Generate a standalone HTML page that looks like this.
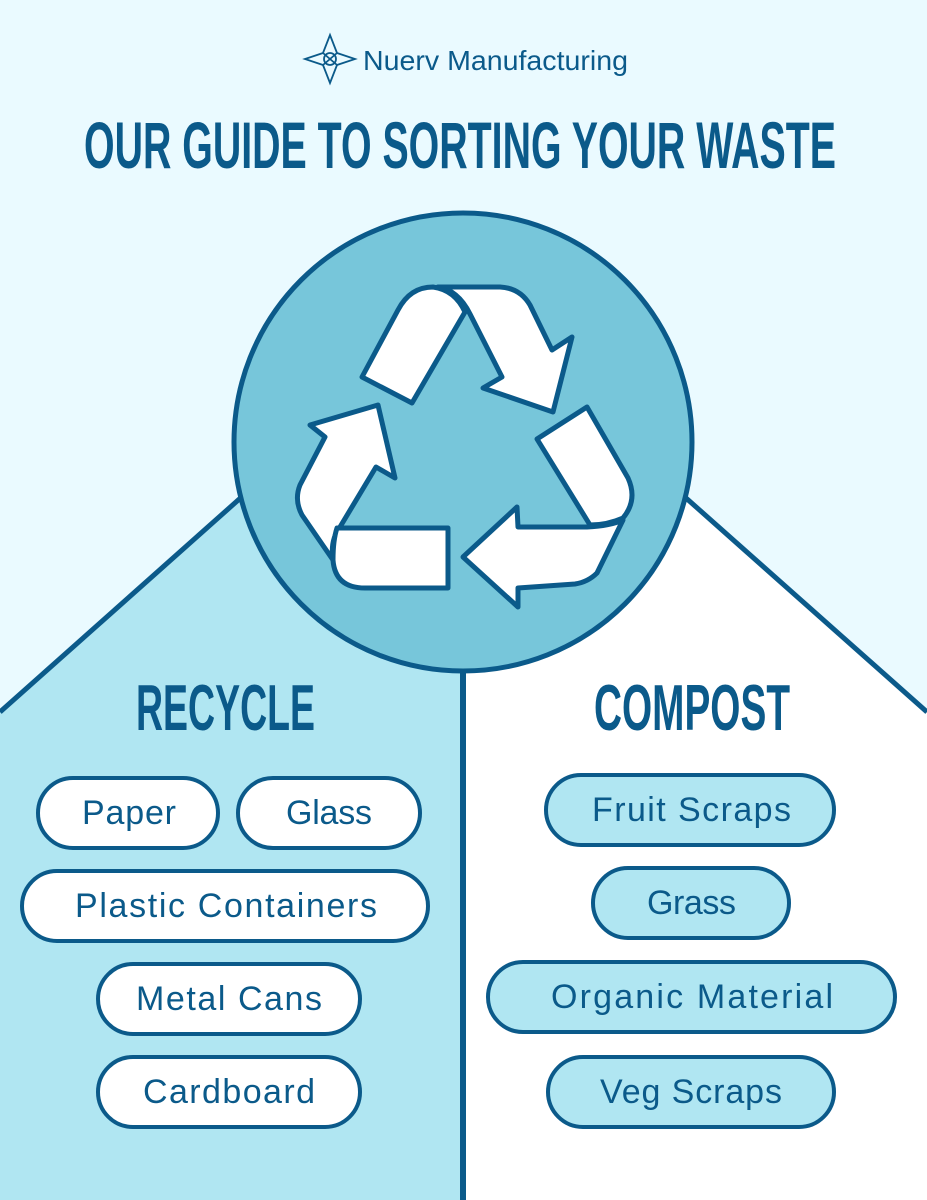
<!DOCTYPE html>
<html><head><meta charset="utf-8"><style>
html,body{margin:0;padding:0;background:#eafaff}
svg{display:block}
</style></head><body>
<svg width="927" height="1200" viewBox="0 0 927 1200" xmlns="http://www.w3.org/2000/svg">
<rect width="927" height="1200" fill="#eafaff"/>
<polygon points="0,712 463,300 463,1200 0,1200" fill="#b0e6f2"/>
<polygon points="927,712 463,300 463,1200 927,1200" fill="#ffffff"/>
<line x1="0" y1="712" x2="463" y2="300" stroke="#0b5a8a" stroke-width="5"/>
<line x1="927" y1="712" x2="463" y2="300" stroke="#0b5a8a" stroke-width="5"/>
<line x1="463" y1="660" x2="463" y2="1200" stroke="#0b5a8a" stroke-width="6"/>
<circle cx="463" cy="442" r="229" fill="#77c6da" stroke="#0b5a8a" stroke-width="5"/>
<g fill="#fff" stroke="#0b5a8a" stroke-width="5" stroke-linejoin="round">
<path d="M438,287 L500,287 Q520,288 530,305 L552,350 L572,337 L553,412 L483,388 L502,377 L470,314 Q458,290 438,287 Z"/>
<path d="M362,377 L412,403 L465,312 Q455,290 433,287 Q410,287 398,310 Z"/>
<path d="M537,439 L587,407 L628,478 Q638,500 623,518 Q607,525 590,525 Z"/>
<path d="M463,557 L517,507 L518,527 L587,527 Q610,526 623,520 L597,573 Q588,582 575,584 L518,588 L518,607 Z"/>
<path d="M333,560 Q330,540 340,527 L376,467 L395,478 L378,405 L310,425 L325,437 L300,485 Q294,500 302,515 L333,560 Z"/>
<path d="M337,528 L448,528 L448,588 L365,588 Q335,588 333,560 Q333,540 337,528 Z"/>
</g>
<g fill="none" stroke="#0b5a8a" stroke-width="1.8">
<path d="M330,35 L337,53 L355,59 L337,65 L330,83 L323,65 L305,59 L323,53 Z"/>
<circle cx="330" cy="59" r="6"/>
<path d="M323,53 L330,59 L337,53 M323,65 L330,59 L337,65"/>
</g>
<text x="363" y="70" font-family="Liberation Sans, sans-serif" font-size="28" fill="#0b5a8a" textLength="265" lengthAdjust="spacingAndGlyphs">Nuerv Manufacturing</text>
<g font-family="Liberation Sans Narrow, Liberation Sans, sans-serif" font-weight="bold" fill="#0b5a8a">
<text x="84" y="168" font-size="66" textLength="752" lengthAdjust="spacingAndGlyphs">OUR GUIDE TO SORTING YOUR WASTE</text>
<text x="136" y="730" font-size="65" textLength="179" lengthAdjust="spacingAndGlyphs">RECYCLE</text>
<text x="594" y="730" font-size="65" textLength="196" lengthAdjust="spacingAndGlyphs">COMPOST</text>
</g>
<g stroke="#0b5a8a" stroke-width="4">
<rect x="38" y="778" width="180" height="70" rx="35" fill="#fff"/>
<rect x="238" y="778" width="182" height="70" rx="35" fill="#fff"/>
<rect x="22" y="871" width="406" height="70" rx="35" fill="#fff"/>
<rect x="98" y="964" width="262" height="70" rx="35" fill="#fff"/>
<rect x="98" y="1057" width="262" height="70" rx="35" fill="#fff"/>
<rect x="546" y="775" width="288" height="70" rx="35" fill="#b0e6f2"/>
<rect x="593" y="868" width="196" height="70" rx="35" fill="#b0e6f2"/>
<rect x="488" y="962" width="407" height="70" rx="35" fill="#b0e6f2"/>
<rect x="548" y="1057" width="286" height="70" rx="35" fill="#b0e6f2"/>
</g>
<g font-family="Liberation Sans, sans-serif" font-size="34" fill="#0b5a8a" lengthAdjust="spacingAndGlyphs">
<text x="82" y="824" textLength="94">Paper</text>
<text x="286" y="824" textLength="86">Glass</text>
<text x="75" y="917" textLength="302">Plastic Containers</text>
<text x="136" y="1010" textLength="186">Metal Cans</text>
<text x="143" y="1103" textLength="172">Cardboard</text>
<text x="592" y="821" textLength="199">Fruit Scraps</text>
<text x="647" y="914" textLength="89">Grass</text>
<text x="551" y="1008" textLength="282">Organic Material</text>
<text x="600" y="1103" textLength="182">Veg Scraps</text>
</g>
</svg>
</body></html>
